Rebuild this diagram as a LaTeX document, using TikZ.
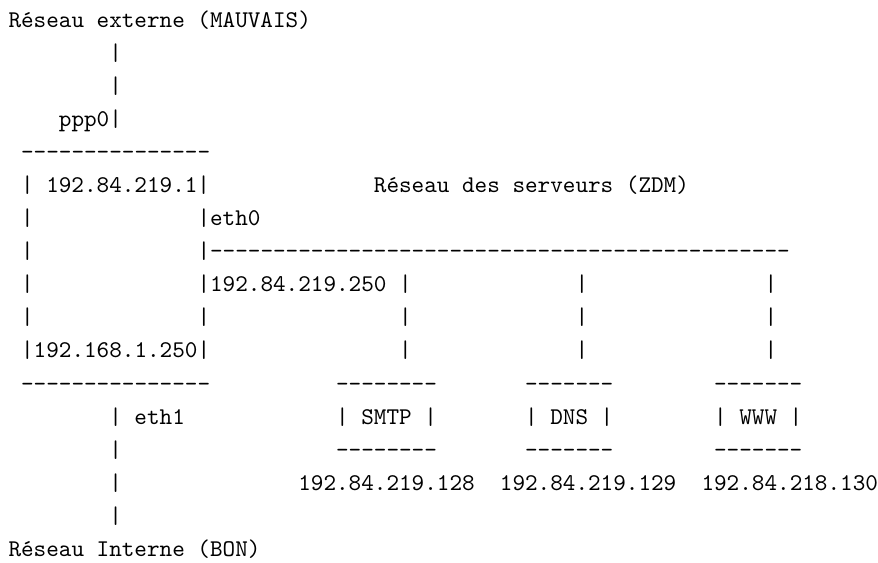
\documentclass[tikz,border=0pt]{standalone}
\newcommand\dashrun[1]{\foreach \dd in {1,...,#1}{-\kern0pt}}
\begin{document}
\begin{tikzpicture}[x=5.25pt,y=-13.79pt,
  txt/.style={anchor=base west,inner sep=0pt,outer sep=0pt,font=\fontsize{10}{12}\selectfont\ttfamily}]
\useasboundingbox[fill=white] (-0.675,-0.816) rectangle (69.005,16.193);
% line 0-4 : external network and firewall top
\node[txt] (extnet) at (0,0) {Réseau externe (MAUVAIS)};
\node[txt] (ba) at (8,1) {|};
\node[txt] (bb) at (8,2) {|};
\node[txt] (ppp) at (4,3) {ppp0|};
\node[txt] (fwtop) at (1,4) {\dashrun{15}};
% line 5
\node[txt] (fwipa) at (1,5) {| 192.84.219.1|};
\node[txt] (dmz) at (29,5) {Réseau des serveurs (ZDM)};
% line 6
\node[txt] (fl6) at (1,6) {|};
\node[txt] (eth0) at (15,6) {|eth0};
% line 7
\node[txt] (fl7) at (1,7) {|};
\node[txt] (bus) at (15,7) {|\dashrun{46}};
% line 8
\node[txt] (fl8) at (1,8) {|};
\node[txt] (fwipb) at (15,8) {|192.84.219.250};
\node[txt] (sa8) at (31,8) {|};
\node[txt] (sb8) at (45,8) {|};
\node[txt] (sc8) at (60,8) {|};
% line 9
\node[txt] (fl9) at (1,9) {|};
\node[txt] (fr9) at (15,9) {|};
\node[txt] (sa9) at (31,9) {|};
\node[txt] (sb9) at (45,9) {|};
\node[txt] (sc9) at (60,9) {|};
% line 10
\node[txt] (fwipc) at (1,10) {|192.168.1.250|};
\node[txt] (sa10) at (31,10) {|};
\node[txt] (sb10) at (45,10) {|};
\node[txt] (sc10) at (60,10) {|};
% line 11
\node[txt] (fwbot) at (1,11) {\dashrun{15}};
\node[txt] (smtptop) at (26,11) {\dashrun{8}};
\node[txt] (dnstop) at (41,11) {\dashrun{7}};
\node[txt] (wwwtop) at (56,11) {\dashrun{7}};
% line 12
\node[txt] (eth1) at (8,12) {| eth1};
\node[txt] (smtp) at (26,12) {| SMTP |};
\node[txt] (dns) at (41,12) {| DNS |};
\node[txt] (www) at (56,12) {| WWW |};
% line 13
\node[txt] (bc) at (8,13) {|};
\node[txt] (smtpbot) at (26,13) {\dashrun{8}};
\node[txt] (dnsbot) at (41,13) {\dashrun{7}};
\node[txt] (wwwbot) at (56,13) {\dashrun{7}};
% line 14
\node[txt] (bd) at (8,14) {|};
\node[txt] (smtpip) at (23,14) {192.84.219.128};
\node[txt] (dnsip) at (39,14) {192.84.219.129};
\node[txt] (wwwip) at (55,14) {192.84.218.130};
% line 15-16
\node[txt] (be) at (8,15) {|};
\node[txt] (intnet) at (0,16) {Réseau Interne (BON)};
\end{tikzpicture}
\end{document}
